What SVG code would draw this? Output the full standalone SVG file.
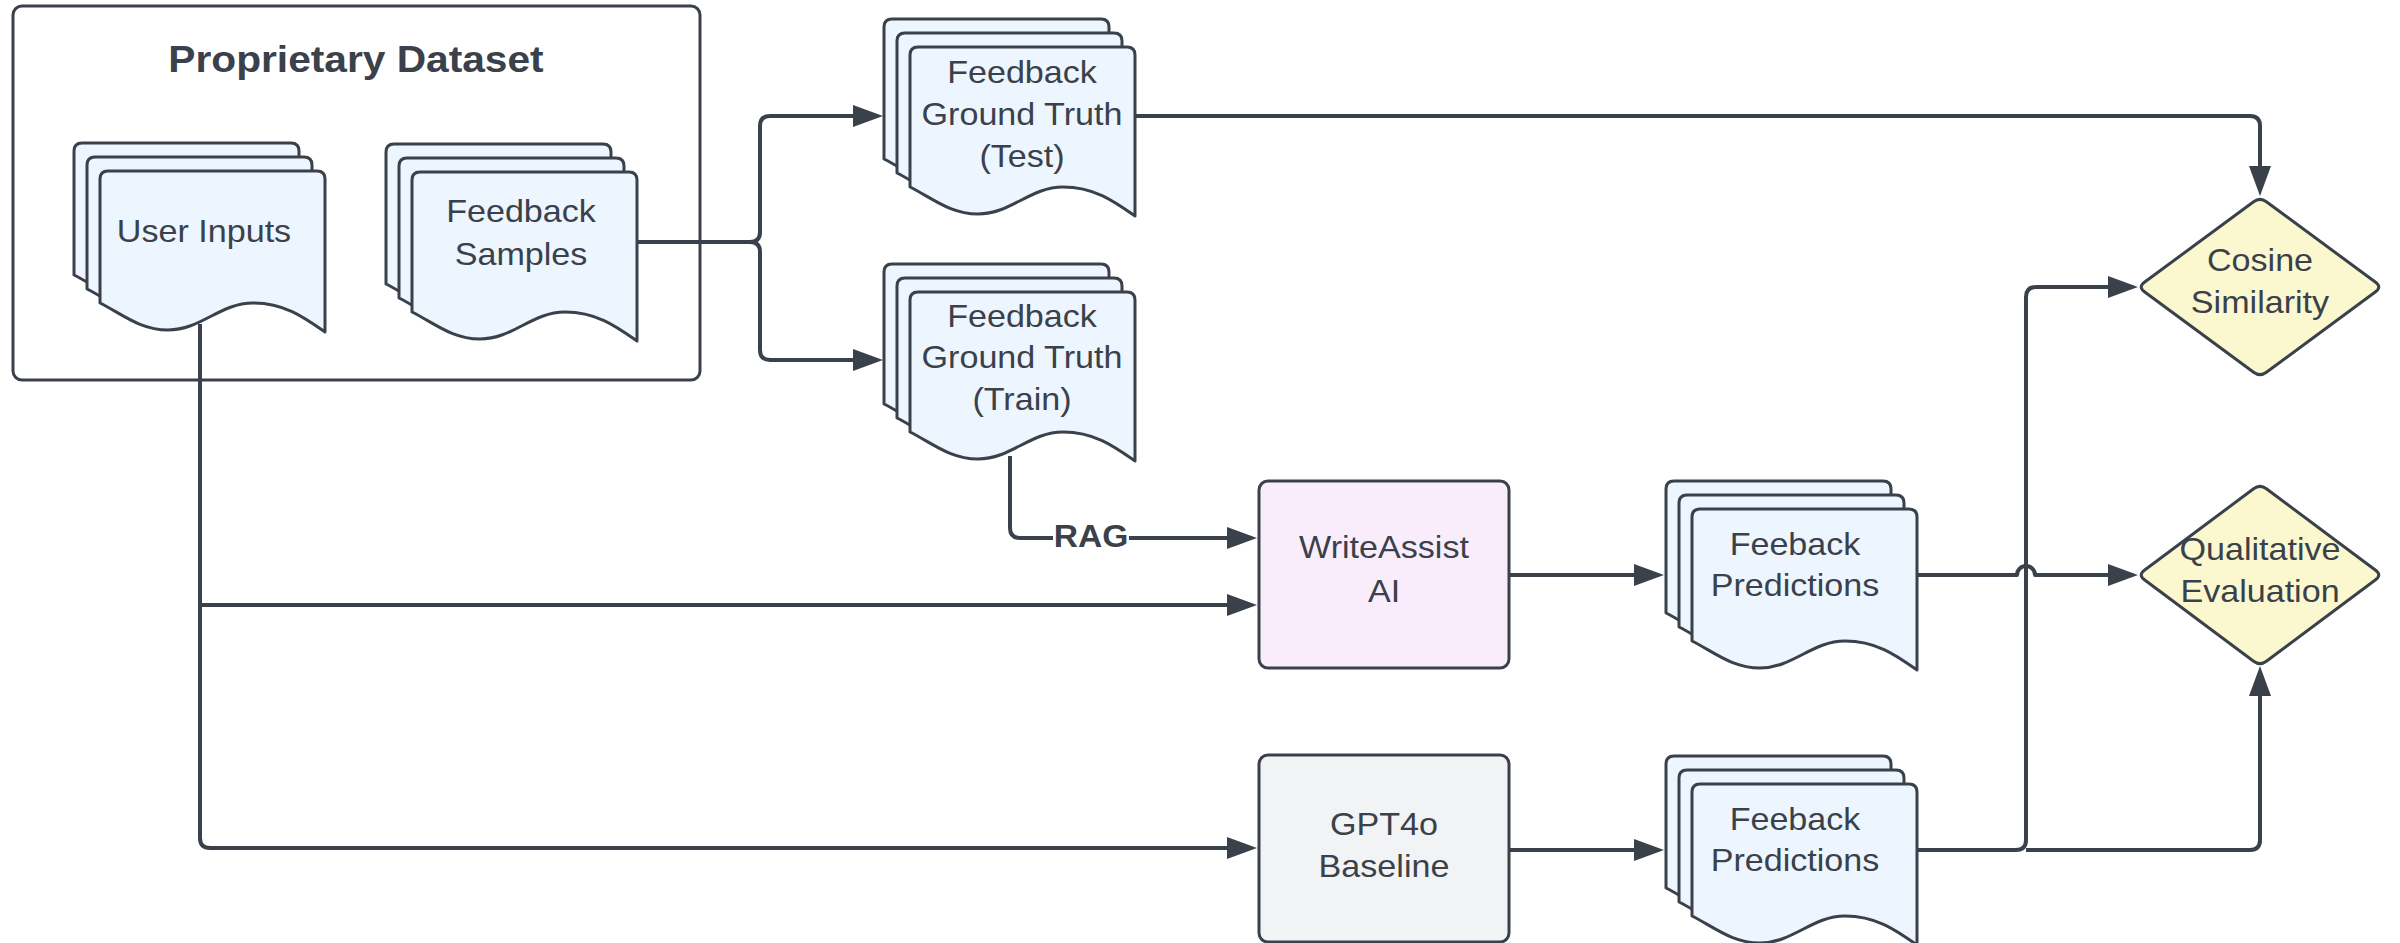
<svg xmlns="http://www.w3.org/2000/svg" xmlns:xlink="http://www.w3.org/1999/xlink" width="2400" height="943" viewBox="0 0 2400 943">
<style>
.doc{fill:#edf5ff;stroke:#3a414a;stroke-width:3;stroke-linejoin:round}
.box{stroke:#3a414a;stroke-width:3}
.dia{fill:#fbf8cf;stroke:#3a414a;stroke-width:3;stroke-linejoin:round}
.t{font-family:"Liberation Sans",Arial,sans-serif;font-size:31px;fill:#3a414a;text-anchor:middle}
.b{font-family:"Liberation Sans",Arial,sans-serif;font-weight:bold;fill:#3a414a;text-anchor:middle}
.c{fill:none;stroke:#3a414a;stroke-width:4;stroke-linejoin:round}
.a{marker-end:url(#arr)}
</style>
<defs>
<marker id="arr" markerUnits="userSpaceOnUse" markerWidth="32" markerHeight="24" refX="20" refY="11" orient="auto">
<path d="M0,0 L30,11 L0,22 Z" fill="#3a414a"/>
</marker>
<path id="doc140" d="M0,140 V8 Q0,0 8,0 H217 Q225,0 225,8 V169 C205,155 185,140 153,140 C120,140 101,167 68,167 C40,167 22,151 0,140 Z"/>
<path id="doc132" d="M0,132 V8 Q0,0 8,0 H217 Q225,0 225,8 V161 C205,147 185,132 153,132 C120,132 101,159 68,159 C40,159 22,143 0,132 Z"/>
</defs>
<rect width="2400" height="943" fill="#ffffff"/>

<g id="dataset">
<rect x="13" y="6" width="687" height="374" rx="9" fill="#ffffff" stroke="#3a414a" stroke-width="3"/>
<text class="b" font-size="37" transform="matrix(1.1 0 0 1 356 0)"><tspan x="0" y="72">Proprietary Dataset</tspan></text>
</g>

<g id="connectors">
<path class="c a" d="M637,242 H750 Q760,242 760,232 V126 Q760,116 770,116 H873"/>
<path class="c a" d="M637,242 H750 Q760,242 760,252 V350 Q760,360 770,360 H873"/>
<path class="c a" d="M1135,116 H2250 Q2260,116 2260,126 V186"/>
<path class="c a" d="M1010,456 V528 Q1010,538 1020,538 H1247"/>
<path class="c a" d="M200,324 V838 Q200,848 210,848 H1247"/>
<path class="c a" d="M200,605 H1247"/>
<path class="c a" d="M1509,575 H1654"/>
<path class="c a" d="M1509,850 H1654"/>
<path class="c a" d="M1917,575 H2017 A9,9 0 0 1 2035,575 H2128"/>
<path class="c a" d="M1917,850 H2016 Q2026,850 2026,840 V297 Q2026,287 2036,287 H2128"/>
<path class="c a" d="M2026,850 H2250 Q2260,850 2260,840 V676"/>
<rect x="1053" y="518" width="76" height="38" fill="#ffffff"/>
<text class="b" font-size="32" transform="matrix(1.05 0 0 1 1091 0)"><tspan x="0" y="547">RAG</tspan></text>
</g>

<g id="user-inputs">
<use href="#doc132" class="doc" x="74" y="143"/>
<use href="#doc132" class="doc" x="87" y="157"/>
<use href="#doc132" class="doc" x="100" y="171"/>
<text class="t" transform="matrix(1.1 0 0 1 204 0)"><tspan x="0" y="242">User Inputs</tspan></text>
</g>

<g id="feedback-samples">
<use href="#doc140" class="doc" x="386" y="144"/>
<use href="#doc140" class="doc" x="399" y="158"/>
<use href="#doc140" class="doc" x="412" y="172"/>
<text class="t" transform="matrix(1.1 0 0 1 521 0)"><tspan x="0" y="222">Feedback</tspan><tspan x="0" y="265">Samples</tspan></text>
</g>

<g id="gt-test">
<use href="#doc140" class="doc" x="884" y="19"/>
<use href="#doc140" class="doc" x="897" y="33"/>
<use href="#doc140" class="doc" x="910" y="47"/>
<text class="t" transform="matrix(1.1 0 0 1 1022 0)"><tspan x="0" y="83">Feedback</tspan><tspan x="0" y="125">Ground Truth</tspan><tspan x="0" y="167">(Test)</tspan></text>
</g>

<g id="gt-train">
<use href="#doc140" class="doc" x="884" y="264"/>
<use href="#doc140" class="doc" x="897" y="278"/>
<use href="#doc140" class="doc" x="910" y="292"/>
<text class="t" transform="matrix(1.1 0 0 1 1022 0)"><tspan x="0" y="327">Feedback</tspan><tspan x="0" y="368">Ground Truth</tspan><tspan x="0" y="410">(Train)</tspan></text>
</g>

<g id="writeassist">
<rect class="box" x="1259" y="481" width="250" height="187" rx="9" fill="#f9edfc"/>
<text class="t" transform="matrix(1.1 0 0 1 1384 0)"><tspan x="0" y="558">WriteAssist</tspan><tspan x="0" y="602">AI</tspan></text>
</g>

<g id="gpt4o">
<rect class="box" x="1259" y="755" width="250" height="187" rx="9" fill="#f2f3f5"/>
<text class="t" transform="matrix(1.1 0 0 1 1384 0)"><tspan x="0" y="835">GPT4o</tspan><tspan x="0" y="877">Baseline</tspan></text>
</g>

<g id="pred-writeassist">
<use href="#doc132" class="doc" x="1666" y="481"/>
<use href="#doc132" class="doc" x="1679" y="495"/>
<use href="#doc132" class="doc" x="1692" y="509"/>
<text class="t" transform="matrix(1.1 0 0 1 1795 0)"><tspan x="0" y="555">Feeback</tspan><tspan x="0" y="596">Predictions</tspan></text>
</g>

<g id="pred-gpt4o">
<use href="#doc132" class="doc" x="1666" y="756"/>
<use href="#doc132" class="doc" x="1679" y="770"/>
<use href="#doc132" class="doc" x="1692" y="784"/>
<text class="t" transform="matrix(1.1 0 0 1 1795 0)"><tspan x="0" y="830">Feeback</tspan><tspan x="0" y="871">Predictions</tspan></text>
</g>

<g id="cosine">
<path class="dia" d="M2253.6,201.75 Q2260,197 2266.4,201.75 L2375.6,282.25 Q2382,287 2375.6,291.75 L2266.4,372.25 Q2260,377 2253.6,372.25 L2144.4,291.75 Q2138,287 2144.4,282.25 Z"/>
<text class="t" transform="matrix(1.1 0 0 1 2260 0)"><tspan x="0" y="271">Cosine</tspan><tspan x="0" y="313">Similarity</tspan></text>
</g>

<g id="qualitative">
<path class="dia" d="M2253.6,488.75 Q2260,484 2266.4,488.75 L2375.6,570.25 Q2382,575 2375.6,579.75 L2266.4,661.25 Q2260,666 2253.6,661.25 L2144.4,579.75 Q2138,575 2144.4,570.25 Z"/>
<text class="t" transform="matrix(1.1 0 0 1 2260 0)"><tspan x="0" y="560">Qualitative</tspan><tspan x="0" y="602">Evaluation</tspan></text>
</g>
</svg>
